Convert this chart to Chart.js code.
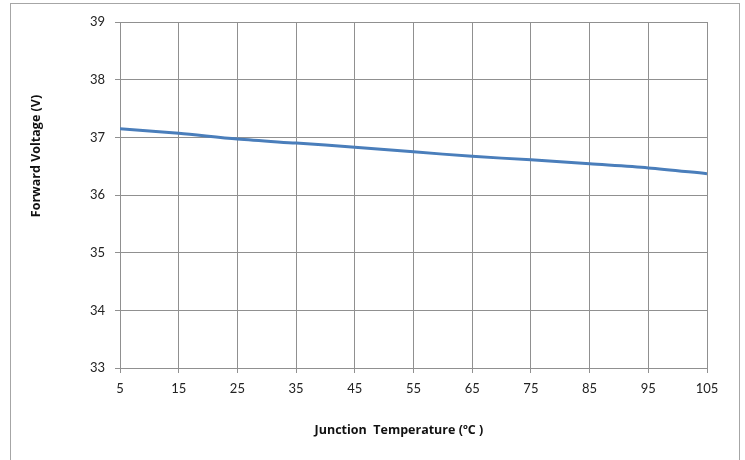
<!DOCTYPE html>
<html>
<head>
<meta charset="utf-8">
<script src="https://cdn.jsdelivr.net/npm/chart.js@4"></script>
<style>
  body { margin: 0; background: #fff; }
  #frame { position: absolute; left: 10px; top: 3px; width: 728px; height: 480px; border: 1px solid #a6a6a6; }
  #wrap { position: absolute; left: 0; top: 0; width: 745px; height: 460px; }
</style>
</head>
<body>
<div id="frame"></div>
<div id="wrap"><canvas id="lineChart"></canvas></div>
<script>
const temps = [5, 15, 25, 35, 45, 55, 65, 75, 85, 95, 105];
const voltage = [37.15, 37.07, 36.97, 36.90, 36.83, 36.75, 36.67, 36.61, 36.54, 36.47, 36.37];
const yTicks = [33, 34, 35, 36, 37, 38, 39];

const lineChart = document.getElementById('lineChart');
const tickFont = { family: 'Lato, "Open Sans", sans-serif', size: 13 };
const titleFont = { family: '"Open Sans", Lato, sans-serif', size: 12.5, weight: 'bold' };

// Excel put the y title a bit above the middle and the x title a bit left of it
const pad = (n) => ' '.repeat(n);

new Chart(lineChart, {
  type: 'line',
  data: {
    datasets: [{
      label: 'Forward Voltage',
      data: temps.map((t, i) => ({ x: t, y: voltage[i] })),
      borderColor: '#4a7ebb',
      borderWidth: 3,
      pointRadius: 0,
      tension: 0.3
    }]
  },
  options: {
    responsive: true,
    maintainAspectRatio: false,
    animation: false,
    layout: { padding: { left: 0, top: 22, right: 38, bottom: 0 } },
    plugins: { legend: { display: false }, tooltip: { enabled: false } },
    scales: {
      x: {
        type: 'linear',
        min: 5,
        max: 105,
        afterBuildTicks: (s) => { s.ticks = temps.map(v => ({ value: v })); },
        afterFit: (s) => { s.height = 92; },
        ticks: { color: '#222', font: tickFont, padding: 8, maxRotation: 0 },
        grid: { color: '#909090', tickLength: 5 },
        border: { color: '#909090' },
        title: { display: true, text: 'Junction  Temperature (ºC )' + pad(9), color: '#111', font: titleFont, padding: { top: 0, bottom: 22 } }
      },
      y: {
        min: 33,
        max: 39,
        afterBuildTicks: (s) => { s.ticks = yTicks.map(v => ({ value: v })); },
        afterFit: (s) => { s.width = 120; },
        ticks: { color: '#222', font: tickFont, padding: 10 },
        grid: { color: '#909090', tickLength: 5 },
        border: { color: '#909090' },
        title: { display: true, text: pad(24) + 'Forward Voltage (V)', color: '#111', font: titleFont, padding: { top: 29, bottom: 0 } }
      }
    }
  }
});
</script>
</body>
</html>
